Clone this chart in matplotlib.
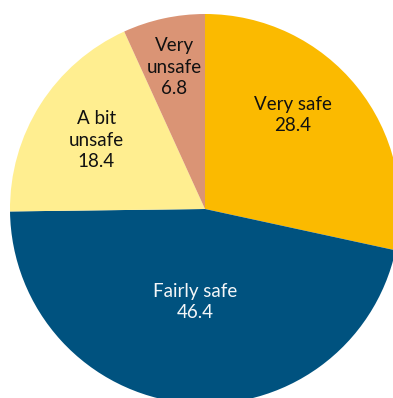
import numpy as np
import matplotlib.pyplot as plt

labels = ["Very safe", "Fairly safe", "A bit\nunsafe", "Very\nunsafe"]
values = [28.4, 46.4, 18.4, 6.8]
colors = ["#FBBA00", "#00527F", "#FFEE90", "#DA9475"]
text_colors = ["#111111", "#F4F6F8", "#111111", "#111111"]
label_radius = [0.66, 0.48, 0.66, 0.745]
label_shift = [8, 0, 0, 0]  # degrees, nudges label off the mid-angle

fig = plt.figure(figsize=(3.93, 3.98), dpi=100)
# pie centred at (205, 209) px from top-left, radius 195 px
ax = fig.add_axes([10 / 393, -6 / 398, 390 / 393, 390 / 398])

wedges, _ = ax.pie(values, colors=colors, startangle=90, counterclock=False,
                   radius=1.0, wedgeprops=dict(linewidth=0))
ax.set_xlim(-1, 1)
ax.set_ylim(-1, 1)
ax.set_aspect("equal")
ax.axis("off")

for w, lab, val, tc, r, s in zip(wedges, labels, values, text_colors, label_radius, label_shift):
    mid = np.deg2rad((w.theta1 + w.theta2) / 2 + s)
    ax.text(r * np.cos(mid), r * np.sin(mid), f"{lab}\n{val}", ha="center", va="center",
            color=tc, fontsize=13.5, family="Lato", linespacing=1.3)

fig.savefig("out.png", dpi=100)
